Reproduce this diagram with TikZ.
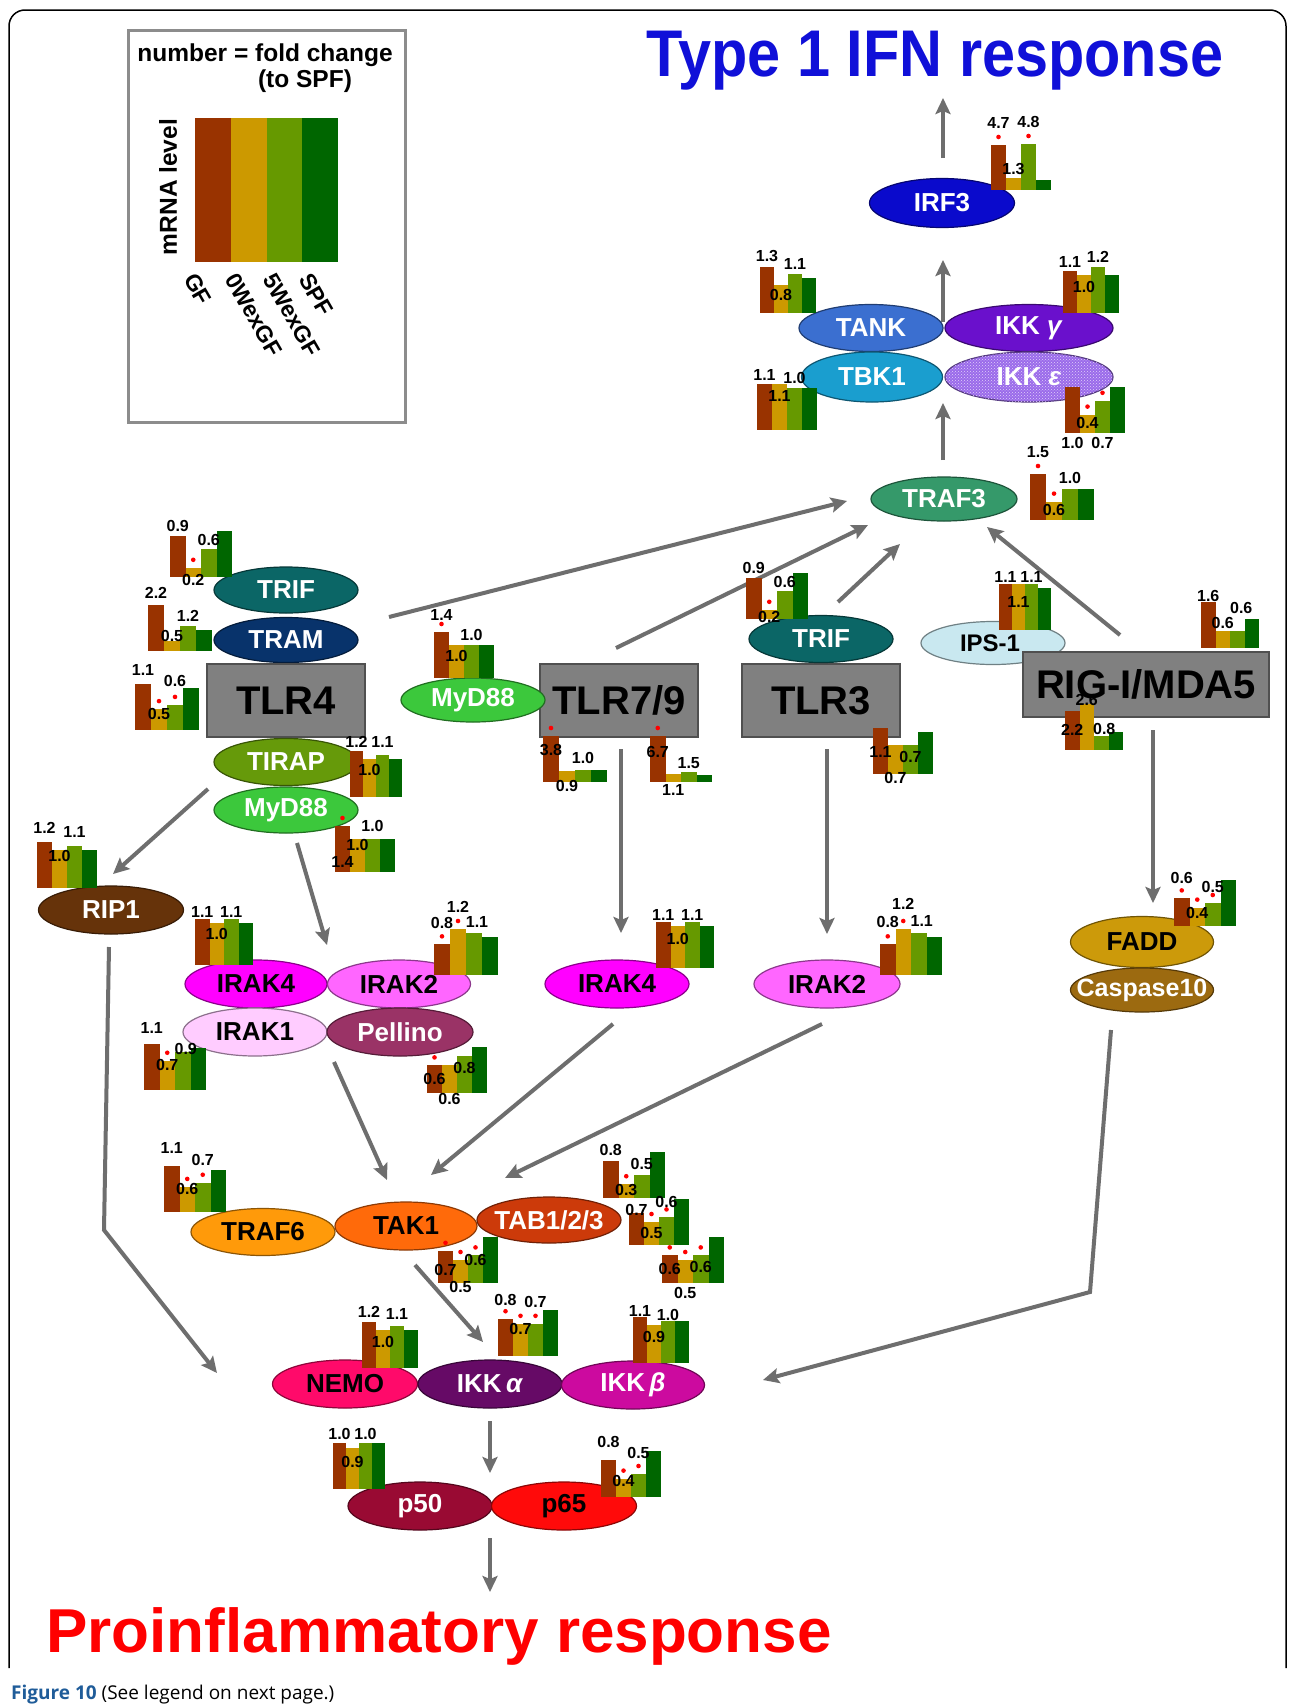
\documentclass[tikz,border=0pt]{standalone}
\usepackage{graphicx}
\usepackage{fontspec}
\setmainfont{Liberation Sans}
\newfontfamily\capfont{Open Sans}
\usetikzlibrary{shapes.geometric,arrows.meta,patterns}
\definecolor{cGF}{HTML}{993300}
\definecolor{cOW}{HTML}{CC9900}
\definecolor{cFW}{HTML}{669900}
\definecolor{cSP}{HTML}{006600}
\definecolor{cArr}{HTML}{6E6E6E}
\definecolor{cTitle}{HTML}{1010D8}
\definecolor{cRed}{HTML}{FF0000}
\definecolor{cCap}{HTML}{1F5C99}
\definecolor{cLeg}{HTML}{8C8C8C}
\definecolor{cIRF}{HTML}{0A0ACC}
\definecolor{cTANK}{HTML}{3B6FD0}
\definecolor{cIKKg}{HTML}{6A10CC}
\definecolor{cTBK}{HTML}{1A9ECF}
\definecolor{cIKKe}{HTML}{9A6AEA}
\definecolor{cTRAFiii}{HTML}{35996A}
\definecolor{cTRIF}{HTML}{0B6666}
\definecolor{cTRAM}{HTML}{08336B}
\definecolor{cTIRAP}{HTML}{669A0A}
\definecolor{cMyD}{HTML}{3CC83C}
\definecolor{cIPS}{HTML}{C9E8F0}
\definecolor{cRIP}{HTML}{66330A}
\definecolor{cIRAKiv}{HTML}{FF00FF}
\definecolor{cIRAKii}{HTML}{FF66FF}
\definecolor{cIRAKi}{HTML}{FFCCFF}
\definecolor{cPel}{HTML}{9A3366}
\definecolor{cFADD}{HTML}{CC9A0A}
\definecolor{cCasp}{HTML}{9C6A10}
\definecolor{cTRAFvi}{HTML}{FF9A0A}
\definecolor{cTAK}{HTML}{FF6A0A}
\definecolor{cTAB}{HTML}{CC3A0A}
\definecolor{cNEMO}{HTML}{FF0A6A}
\definecolor{cIKKa}{HTML}{660A66}
\definecolor{cIKKb}{HTML}{CC0A9F}
\definecolor{cPl}{HTML}{990A33}
\definecolor{cPs}{HTML}{FF0A0A}
\definecolor{cBox}{HTML}{808080}
\definecolor{cBoxD}{HTML}{505050}
\newcommand{\zw}[1]{\makebox[0pt][c]{#1}}
% bar chart: #1 x,y (left, baseline) #2 bar width #3-#5 values #6-#8 label options #9 stars
\newcommand{\bc}[9]{%
\begin{scope}[shift={(#1)}]
\pgfmathsetmacro{\bcu}{46/max(1,#3,#4,#5)}
\pgfmathsetmacro{\bcw}{#2}
\fill[cGF] (0,0) rectangle (\bcw,-#3*\bcu);
\fill[cOW] (\bcw,0) rectangle (2*\bcw,-#4*\bcu);
\fill[cFW] (2*\bcw,0) rectangle (3*\bcw,-#5*\bcu);
\fill[cSP] (3*\bcw,0) rectangle (4*\bcw,-\bcu);
\coordinate (t1) at (0.5*\bcw,-#3*\bcu);
\coordinate (t2) at (1.5*\bcw,-#4*\bcu);
\coordinate (t3) at (2.5*\bcw,-#5*\bcu);
\coordinate (b1) at (0.5*\bcw,0);
\coordinate (b2) at (1.5*\bcw,0);
\coordinate (b3) at (2.5*\bcw,0);
\foreach \s in {#9}{\ifnum\s>0 \fill[red] (t\s) ++(0,-8) circle (2.3);\fi}
\node[lab,at={(t1)},#6]{#3};
\node[lab,at={(t2)},#7]{#4};
\node[lab,at={(t3)},#8]{#5};
\end{scope}}
\begin{document}
\begin{tikzpicture}[x=1pt,y=-1pt,
  arr/.style={draw=cArr, line width=4pt, -{Stealth[length=16pt,width=15pt,inset=3pt]}},
  ell/.style={ellipse, fill=#1, draw=#1!55!black, line width=1.2pt, inner sep=0pt, font=\fontsize{26}{28}\selectfont\bfseries},
  sz/.style 2 args={minimum width=#1pt, minimum height=#2pt},
  tlrbox/.style={rectangle, fill=cBox, draw=cBoxD, line width=1.5pt, inner sep=0pt, font=\fontsize{40}{42}\selectfont\bfseries},
  lab/.style={inner sep=0pt, font=\fontsize{16}{16}\selectfont\bfseries},
  legtxt/.style={inner sep=0pt, font=\fontsize{24.5}{26}\selectfont\bfseries},
  legrot/.style={inner sep=0pt, font=\fontsize{23}{24}\selectfont\bfseries, rotate=-60, anchor=north west}]
\useasboundingbox (0,0) rectangle (1295,1705);
\fill[white] (0,0) rectangle (1295,1705);
% frame
\draw[line width=1.5pt, rounded corners=16pt] (9,1668) -- (9,10) -- (1286,10) -- (1286,1668);
% legend
\draw[cLeg, line width=3pt] (128,30) rectangle (405,422);
\node[legtxt] (leg1) at (265,55) {number = fold change};
\node[legtxt] (leg2) at (305,81) {(to SPF)};
\fill[cGF] (195,118) rectangle (231,262);
\fill[cOW] (231,118) rectangle (267,262);
\fill[cFW] (267,118) rectangle (302,262);
\fill[cSP] (302,118) rectangle (338,262);
\node[legtxt, rotate=90] (legm) at (168,187) {mRNA level};
\node[legrot] (lg1) at (197,271) {GF};
\node[legrot] (lg2) at (238,271) {0WexGF};
\node[legrot] (lg3) at (276,271) {5WexGF};
\node[legrot] (lg4) at (312,271) {SPF};
% titles
\node[anchor=base, inner sep=0pt, text=cTitle, font=\fontsize{66}{70}\selectfont\bfseries] (title) at (935,76) {\scalebox{0.9}[1]{Type 1 IFN response}};
\node[anchor=base west, inner sep=0pt, text=cRed, font=\fontsize{62}{64}\selectfont\bfseries] (proinfl) at (46,1652) {Proinflammatory response};
\node[anchor=base west, inner sep=0pt, font=\capfont\fontsize{19}{21}\selectfont] (caption) at (11,1699) {\textcolor{cCap}{\bfseries Figure 10} (See legend on next page.)};
% connector end points
\coordinate (u1a) at (943,158); \coordinate (u1b) at (943,98);
\coordinate (u2a) at (943,322); \coordinate (u2b) at (943,260);
\coordinate (u3a) at (943,460); \coordinate (u3b) at (943,403);
\coordinate (r1a) at (389,617); \coordinate (r1b) at (847,501);
\coordinate (r2a) at (616,648); \coordinate (r2b) at (868,525);
\coordinate (r3a) at (838,602); \coordinate (r3b) at (900,544);
\coordinate (r4a) at (1120,635); \coordinate (r4b) at (987,527);
\coordinate (d1a) at (621,749); \coordinate (d1b) at (621,933);
\coordinate (d2a) at (827,749); \coordinate (d2b) at (827,934);
\coordinate (d3a) at (1153,730); \coordinate (d3b) at (1153,903);
\coordinate (d4a) at (208,789); \coordinate (d4b) at (113,874);
\coordinate (d5a) at (297,843); \coordinate (d5b) at (327,945);
\coordinate (d6a) at (613,1024); \coordinate (d6b) at (431,1175);
\coordinate (d7a) at (822,1024); \coordinate (d7b) at (505,1178);
\coordinate (d8a) at (334,1062); \coordinate (d8b) at (387,1180);
\coordinate (d9a) at (415,1265); \coordinate (d9b) at (483,1342);
\coordinate (e1a) at (109,947); \coordinate (e1m) at (104,1230); \coordinate (e1b) at (217,1373);
\coordinate (e2a) at (1111,1030); \coordinate (e2m) at (1090,1292); \coordinate (e2b) at (763,1380);
\coordinate (f1a) at (490,1421); \coordinate (f1b) at (490,1473);
\coordinate (f2a) at (490,1538); \coordinate (f2b) at (490,1592);
\foreach \p in {u1,u2,u3,r1,r2,r3,r4,d1,d2,d3,d4,d5,d6,d7,d8,d9,f1,f2}{\draw[arr] (\p a) -- (\p b);}
\draw[arr] (e1a) -- (e1m) -- (e1b);
\draw[arr] (e2a) -- (e2m) -- (e2b);
% nodes: top
\node[ell=cIRF, text=white, sz={145}{49}] (irf3) at (942,203) {\zw{IRF3}};
\node[ell=cTANK, text=white, sz={144}{47}] (tank) at (871,328) {\zw{TANK}};
\node[ell=cIKKg, text=white, sz={168}{47}] (ikkg) at (1029,328) {\zw{IKK \textit{γ}}};
\node[ell=cTBK, text=white, sz={141}{50}] (tbk1) at (872,377) {\zw{TBK1}};
\node[ell=cIKKe, text=white, sz={168}{50}, postaction={pattern=crosshatch dots, pattern color=white!70!cIKKe}] (ikke) at (1029,377) {\zw{IKK \textit{ε}}};
\node[ell=cTRAFiii, text=white, sz={146}{44}] (traf3) at (944,499) {\zw{TRAF3}};
% TLR4
\node[ell=cTRIF, text=white, sz={144}{46}] (trifA) at (286,590) {\zw{TRIF}};
\node[ell=cTRAM, text=white, sz={144}{45}] (tram) at (286,640) {\zw{TRAM}};
\node[tlrbox, minimum width=158pt, minimum height=73pt] (tlr4) at (286,700.5) {TLR4};
\node[ell=cTIRAP, text=white, sz={144}{47}] (tirap) at (286,762) {\zw{TIRAP}};
\node[ell=cMyD, text=white, sz={144}{46}] (myd88A) at (286,810) {\zw{MyD88}};
% TLR7/9
\node[tlrbox, minimum width=158pt, minimum height=73pt] (tlr79) at (619,700.5) {TLR7/9};
\node[ell=cMyD, text=white, sz={144}{44}] (myd88B) at (473,700) {\zw{MyD88}};
% TLR3
\node[tlrbox, minimum width=158pt, minimum height=73pt] (tlr3) at (821,700.5) {TLR3};
\node[ell=cTRIF, text=white, sz={144}{47}] (trifB) at (821,639) {\zw{TRIF}};
% RIG-I
\node[ell=cIPS, text=black, sz={144}{43}, font=\fontsize{24}{26}\selectfont\bfseries] (ips1) at (993,643) {\zw{\hspace*{-6pt}IPS-1}};
\node[tlrbox, minimum width=246pt, minimum height=65pt] (rig) at (1146,684.5) {RIG-I/MDA5};
% middle
\node[ell=cRIP, text=white, sz={145}{48}] (rip1) at (111,910) {\zw{RIP1}};
\node[ell=cIRAKiv, text=black, sz={142}{48}] (irak4A) at (256,984) {\zw{IRAK4}};
\node[ell=cIRAKii, text=black, sz={143}{48}] (irak2A) at (399,984) {\zw{IRAK2}};
\node[ell=cIRAKi, text=black, sz={144}{48}] (irak1) at (255,1032) {\zw{IRAK1}};
\node[ell=cPel, text=white, sz={146}{48}] (pellino) at (400,1032) {\zw{Pellino}};
\node[ell=cIRAKiv, text=black, sz={144}{48}] (irak4B) at (617,984) {\zw{IRAK4}};
\node[ell=cIRAKii, text=black, sz={146}{48}] (irak2B) at (827,984) {\zw{IRAK2}};
\node[ell=cFADD, text=black, sz={143}{51}] (fadd) at (1142,942) {\zw{FADD}};
\node[ell=cCasp, text=white, sz={143}{44}, font=\fontsize{25}{27}\selectfont\bfseries] (casp) at (1142,990) {\zw{Caspase10}};
% lower
\node[ell=cTRAFvi, text=black, sz={144}{47}] (traf6) at (263,1232) {\zw{TRAF6}};
\node[ell=cTAK, text=black, sz={142}{48}] (tak1) at (406,1226) {\zw{TAK1}};
\node[ell=cTAB, text=white, sz={144}{46}] (tab) at (549,1220) {\zw{TAB1/2/3}};
\node[ell=cNEMO, text=black, sz={145}{48}] (nemo) at (345,1384) {\zw{NEMO}};
\node[ell=cIKKa, text=white, sz={144}{48}] (ikka) at (490,1384) {\zw{IKK\,\textit{α}}};
\node[ell=cIKKb, text=white, sz={143}{48}] (ikkb) at (633,1385) {\zw{IKK\,\textit{β}}};
\node[ell=cPl, text=white, sz={144}{48}] (p50) at (420,1506) {\zw{p50}};
\node[ell=cPs, text=black, sz={145}{48}] (p65) at (564,1506) {\zw{p65}};
% bar charts
\bc{991,190}{15}{4.7}{1.3}{4.8}{yshift=22}{yshift=9}{yshift=22}{1,3}
\bc{760,313}{14}{1.3}{0.8}{1.1}{yshift=11}{yshift=-10}{yshift=10}{0}
\bc{1063,313}{14}{1.1}{1.0}{1.2}{yshift=9}{yshift=-12}{yshift=10}{0}
\bc{757,430}{15}{1.1}{1.1}{1.0}{yshift=9}{yshift=-12}{yshift=10}{0}
\bc{1065,433}{15}{1.0}{0.4}{0.7}{at={(b1)},yshift=-10}{yshift=-8}{at={(b3)},yshift=-10}{2,3}
\bc{1030,520}{16}{1.5}{0.6}{1.0}{yshift=22}{yshift=-8}{yshift=11}{1,2}
\bc{170,577}{15.5}{0.9}{0.2}{0.6}{yshift=10}{at={(b2)},yshift=-3}{yshift=9}{2}
\bc{148,651}{16}{2.2}{0.5}{1.2}{yshift=12}{yshift=5}{yshift=10}{0}
\bc{135,730}{16}{1.1}{0.5}{0.6}{yshift=14}{yshift=-5}{yshift=24}{2,3}
\bc{350,797}{13}{1.2}{1.0}{1.1}{yshift=9}{yshift=-11}{yshift=13}{0}
\bc{335,872}{15}{1.4}{1.0}{1.0}{at={(b1)},yshift=10}{yshift=-6}{yshift=13}{1}
\bc{37,888}{15}{1.2}{1.0}{1.1}{yshift=14}{yshift=-6}{yshift=14}{0}
\bc{195,965}{14.5}{1.1}{1.0}{1.1}{yshift=7}{yshift=-11}{yshift=7}{0}
\bc{434,975}{16}{0.8}{1.2}{1.1}{yshift=21}{yshift=22}{yshift=11,xshift=3}{1,2}
\bc{144,1090}{15.5}{1.1}{0.7}{0.9}{yshift=16}{yshift=-4}{yshift=3,xshift=3}{2}
\bc{427,1093}{15}{0.6}{0.6}{0.8}{yshift=-14}{at={(b2)},yshift=-6}{yshift=-12}{1}
\bc{656,968}{14.5}{1.1}{1.0}{1.1}{yshift=7}{yshift=-13}{yshift=7}{0}
\bc{880,975}{15.5}{0.8}{1.2}{1.1}{yshift=22}{yshift=25}{yshift=12,xshift=3}{1,2}
\bc{434,678}{15}{1.4}{1.0}{1.0}{yshift=17}{yshift=-11}{yshift=10}{1}
\bc{543,782}{16}{3.8}{0.9}{1.0}{yshift=-14}{at={(b2)},yshift=-4}{yshift=12}{1}
\bc{650,782}{15.5}{6.7}{1.1}{1.5}{yshift=-16}{at={(b2)},yshift=-8}{yshift=9}{1}
\bc{746,619}{15.5}{0.9}{0.2}{0.6}{yshift=10}{at={(b2)},yshift=2}{yshift=9}{2}
\bc{873,774}{15}{1.1}{0.7}{0.7}{yshift=-24}{at={(b2)},yshift=-4}{yshift=-12}{0}
\bc{999,630}{13}{1.1}{1.1}{1.1}{yshift=7}{yshift=-18}{yshift=7}{0}
\bc{1201,648}{14.5}{1.6}{0.6}{0.6}{yshift=6}{yshift=8}{yshift=23,xshift=4}{0}
\bc{1065,750}{14.5}{2.2}{2.6}{0.8}{yshift=-19}{yshift=4}{yshift=7,xshift=3}{0}
\bc{1174,926}{15.5}{0.6}{0.4}{0.5}{yshift=20}{yshift=-5}{yshift=16}{1,2,3}
\bc{164,1212}{15.5}{1.1}{0.6}{0.7}{yshift=18}{yshift=-2}{yshift=23}{2,3}
\bc{438,1283}{15}{0.7}{0.5}{0.6}{yshift=-19}{at={(b2)},yshift=-4}{yshift=-5}{1,2,3}
\bc{603,1198}{15.5}{0.8}{0.3}{0.5}{yshift=11}{yshift=-6}{yshift=11}{2}
\bc{629,1245}{15}{0.7}{0.5}{0.6}{yshift=3}{yshift=-11}{yshift=15}{2,3}
\bc{662,1283}{15.5}{0.6}{0.5}{0.6}{yshift=-14}{at={(b2)},yshift=-10}{yshift=-12}{1,2,3}
\bc{362,1368}{14}{1.2}{1.0}{1.1}{yshift=10}{yshift=-12}{yshift=12}{0}
\bc{498,1356}{15}{0.8}{0.7}{0.7}{yshift=19}{yshift=-5}{yshift=22}{1,2,3}
\bc{633,1363}{14}{1.1}{0.9}{1.0}{yshift=6}{yshift=-12}{yshift=6}{0}
\bc{333,1489}{13}{1.0}{0.9}{1.0}{yshift=9}{yshift=-14}{yshift=9}{0}
\bc{601,1497}{15}{0.8}{0.4}{0.5}{yshift=18}{yshift=-2}{yshift=21}{2,3}
\end{tikzpicture}
\end{document}
